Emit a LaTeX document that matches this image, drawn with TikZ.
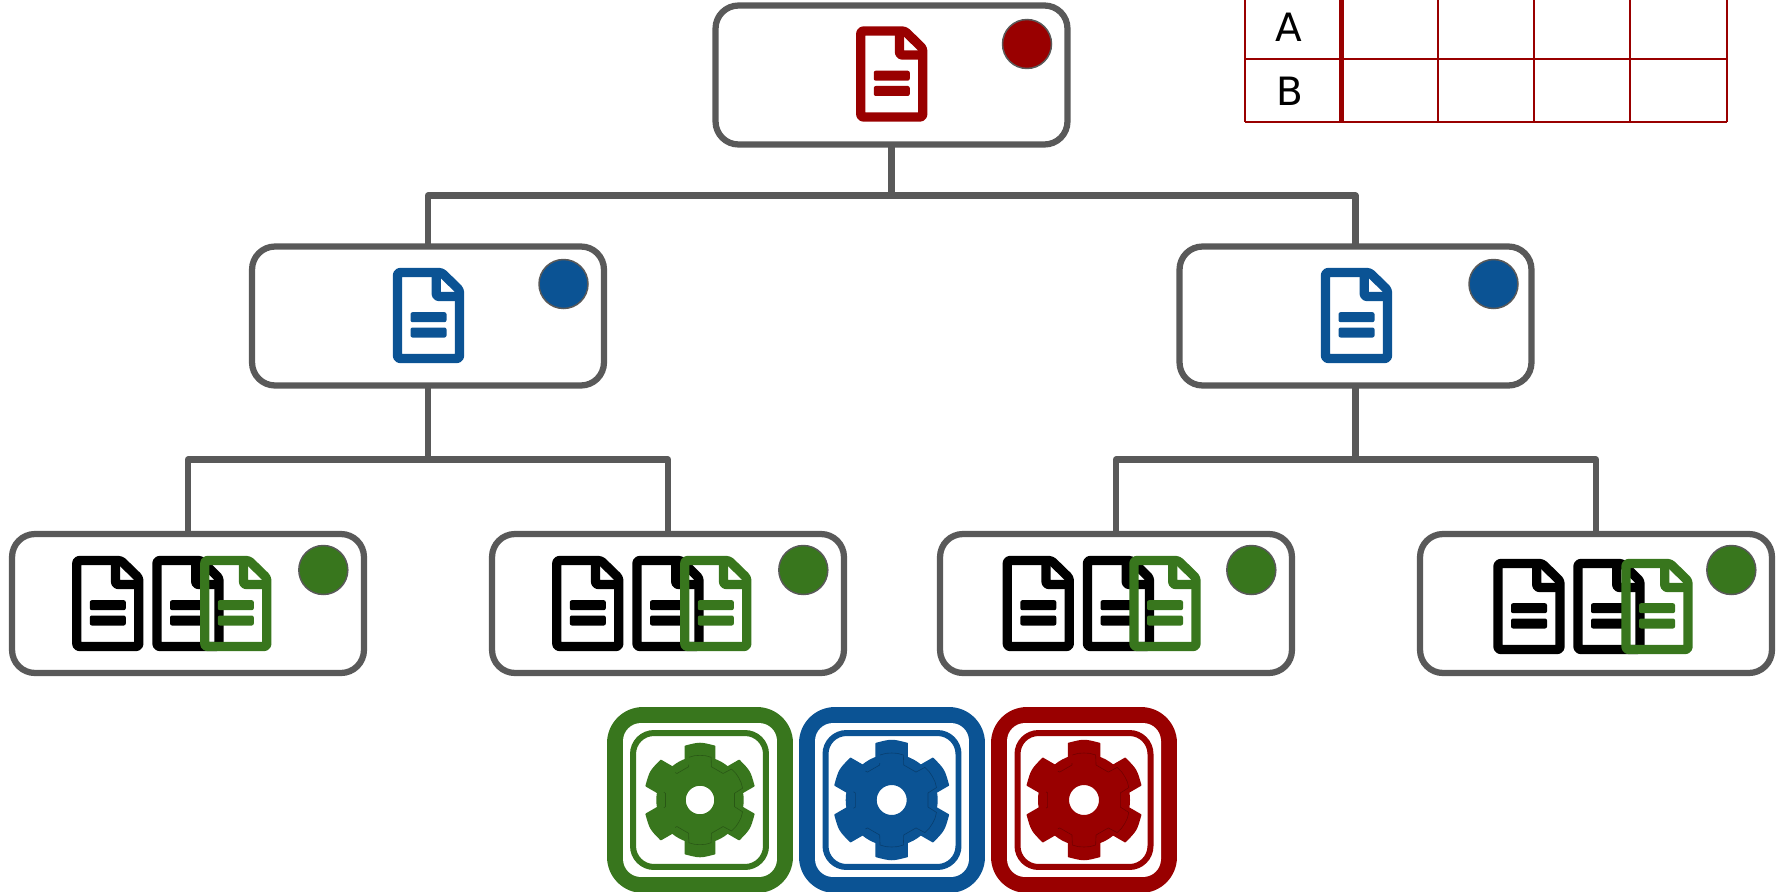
\documentclass[tikz,border=0pt]{standalone}
\usepackage{fontspec}
\setmainfont{DejaVu Sans}
\definecolor{boxgray}{HTML}{595959}
\definecolor{docred}{HTML}{990000}
\definecolor{docblue}{HTML}{0B5394}
\definecolor{docgreen}{HTML}{38761D}
\tikzset{
    card/.style={draw=boxgray, line width=.125cm, rounded corners=.46cm, minimum width=7.04cm, minimum height=2.78cm, inner sep=0, outer sep=0},
    wire/.style={draw=boxgray, line width=.125cm, line join=round},
    badge/.style={circle, draw=boxgray, line width=.03cm, fill=#1, minimum size=.98cm, inner sep=0},
    gridline/.style={draw=docred, line width=.04cm},
    outerframe/.style={fill=#1, rounded corners=.72cm, minimum width=3.72cm, minimum height=3.72cm, inner sep=0, outer sep=0},
    whitewell/.style={fill=white, rounded corners=.36cm, minimum width=3.08cm, minimum height=3.08cm, inner sep=0, outer sep=0},
    innerframe/.style={draw=#1, line width=.12cm, rounded corners=.42cm, minimum width=2.66cm, minimum height=2.68cm, inner sep=0, outer sep=0},
    pics/docicon/.style={code={
        \draw[draw=#1, line width=.185cm, line join=round, rounded corners=.05cm] (-31,-43) -- (13,-43) -- (31,-25.5) -- (31,43) -- (-31,43) -- cycle;
        \draw[draw=#1, line width=.185cm, line join=round, rounded corners=.05cm] (7.75,-43) -- (7.75,-19) -- (31,-19);
        \fill[#1, rounded corners=.04cm] (-18,-3.3) rectangle (18,6.7);
        \fill[#1, rounded corners=.04cm] (-18,12) rectangle (18,22);
    }},
    pics/gearicon/.style={code={
        \fill[#1, even odd rule] (0,0) circle (46) (0,0) circle (15);
        \foreach \a in {90,150,...,420} {
            \filldraw[#1, rotate=\a-90, line width=.03cm, line join=round] (-15.5,38) -- (-15.5,56.5) .. controls (0,60.5) .. (15.5,56.5) -- (15.5,38) -- cycle;
            \draw[black, opacity=.25, line width=.012cm] (\a-14.5:46.5) -- (\a-7:47) -- (\a:47) -- (\a+7:47) -- (\a+14.5:46.5)
                -- (\a+19:37) -- (\a+41:37) -- (\a+45.5:46.5);
        }
    }}
}
\begin{document}
\begin{tikzpicture}[x=.02cm, y=-.02cm]
    \useasboundingbox (0,0) rectangle (1781,892);

    \node[card] (root) at (891.5,75) {};
    \node[card] (left) at (428,316) {};
    \node[card] (right) at (1355.5,316) {};
    \node[card] (ll) at (188,603.5) {};
    \node[card] (lr) at (668,603.5) {};
    \node[card] (rl) at (1116,603.5) {};
    \node[card] (rr) at (1596,603.5) {};

    \draw[wire] (root.south) -- ++(0,51) -| (left.north);
    \draw[wire] (root.south) -- ++(0,51) -| (right.north);
    \draw[wire] (left.south) -- ++(0,74) -| (ll.north);
    \draw[wire] (left.south) -- ++(0,74) -| (lr.north);
    \draw[wire] (right.south) -- ++(0,74) -| (rl.north);
    \draw[wire] (right.south) -- ++(0,74) -| (rr.north);

    \pic at ([shift={(0.25,-1)}]root.center) {docicon=docred};
    \pic at ([shift={(0.5,-0.5)}]left.center) {docicon=docblue};
    \pic at ([shift={(1,-0.5)}]right.center) {docicon=docblue};
    \node[badge=docred] (rootdot) at ([shift={(135.5,-31)}]root.center) {};
    \node[badge=docblue] (leftdot) at ([shift={(135.5,-32)}]left.center) {};
    \node[badge=docblue] (rightdot) at ([shift={(138,-32)}]right.center) {};

    \foreach \n/\da/\db/\dc/\dy in {ll/-80.2/0/47.8/0, lr/-80.2/0/47.8/0, rl/-77.7/2.5/49/0, rr/-67/13/61/3} {
        \pic at ([shift={(\da,\dy)}]\n.center) {docicon=black};
        \pic at ([shift={(\db,\dy)}]\n.center) {docicon=black};
        \pic at ([shift={(\dc,\dy)}]\n.center) {docicon=docgreen};
        \node[badge=docgreen] (\n dot) at ([shift={(135.3,-33.5)}]\n.center) {};
    }

    \node[outerframe=docgreen] (greenout) at (700,800) {};
    \node[whitewell] (greenwell) at (700,800) {};
    \node[innerframe=docgreen] (greenin) at (699.5,800) {};
    \pic[scale=.95] at (700,800) {gearicon=docgreen};
    \node[outerframe=docblue] (blueout) at (892,800) {};
    \node[whitewell] (bluewell) at (892,800) {};
    \node[innerframe=docblue] (bluein) at (892,800) {};
    \pic at (891.7,800) {gearicon=docblue};
    \node[outerframe=docred] (redout) at (1084,800) {};
    \node[whitewell] (redwell) at (1084,800) {};
    \node[innerframe=docred] (redin) at (1084,800) {};
    \pic at (1084,800) {gearicon=docred};

    \foreach \x in {1245,1437.7,1534,1630.3,1726.7} {
        \draw[gridline] (\x,0) -- (\x,122);
    }
    \draw[gridline, line width=.11cm] (1341.5,0) -- (1341.5,122);
    \draw[gridline] (1245,59) -- (1726.7,59);
    \draw[gridline] (1245,122) -- (1726.7,122);
    \node[font=\fontsize{22.2}{24}\selectfont, inner sep=0] (rowa) at (1289,27.7) {A};
    \node[font=\fontsize{22.2}{24}\selectfont, inner sep=0] (rowb) at (1290,91.3) {B};
\end{tikzpicture}
\end{document}
